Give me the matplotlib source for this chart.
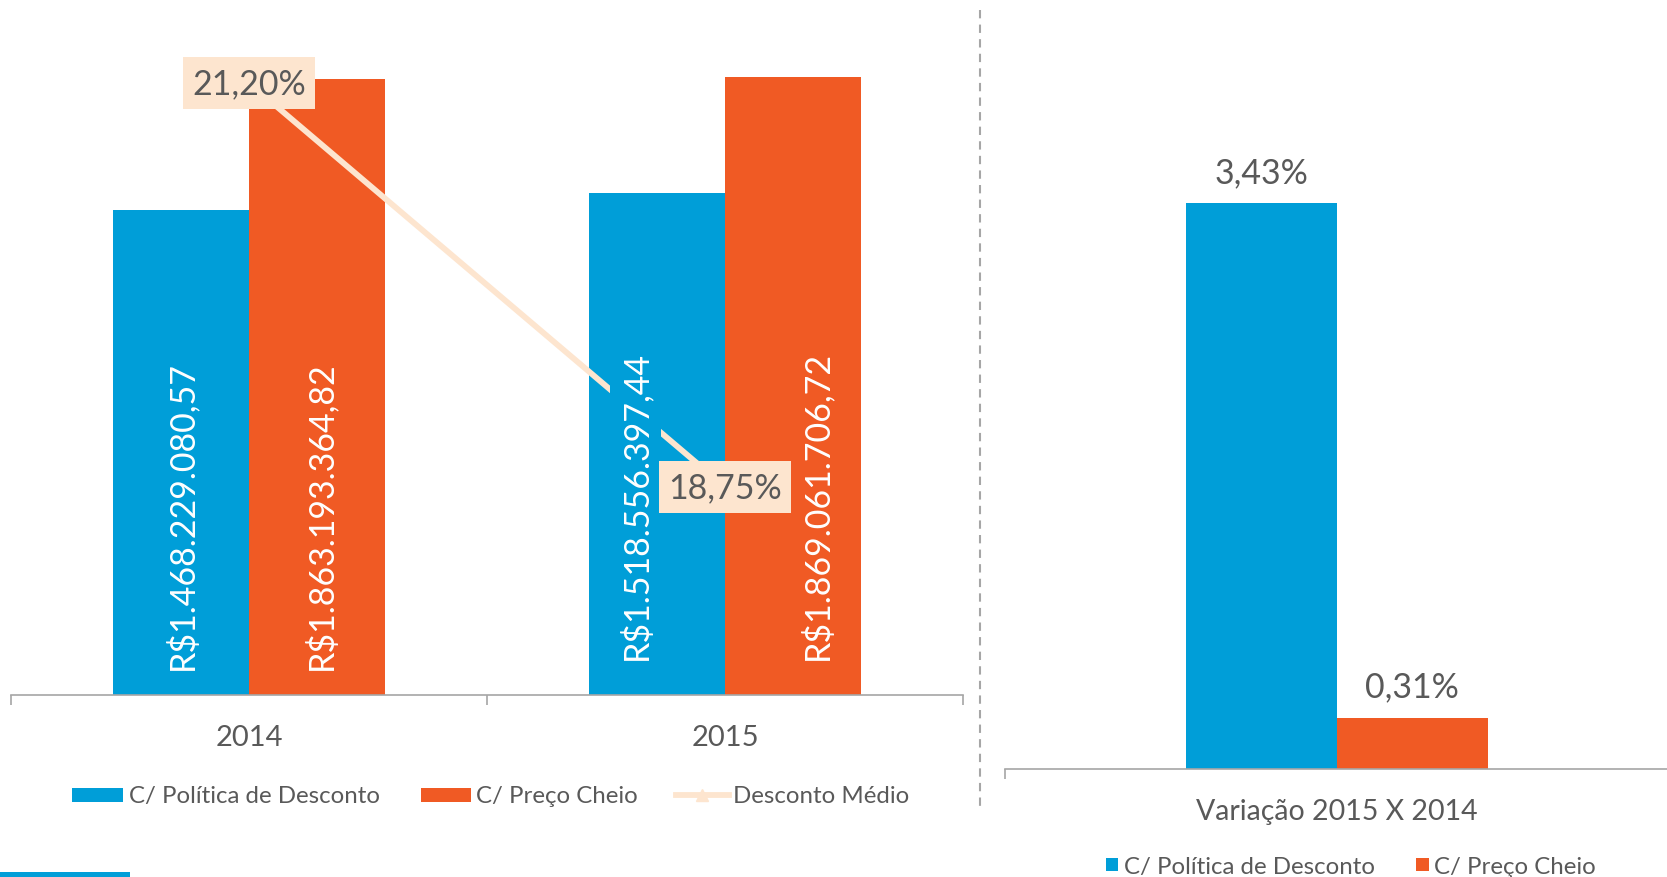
import matplotlib
matplotlib.use("Agg")
import matplotlib.pyplot as plt
from matplotlib.patches import Rectangle
from matplotlib.lines import Line2D

plt.rcParams['font.family'] = ['Lato', 'DejaVu Sans']

# ---- data ----
years = ["2014", "2015"]
politica = [1468229080.57, 1518556397.44]
preco_cheio = [1863193364.82, 1869061706.72]
desconto_medio = [21.20, 18.75]
politica_labels = ["R$1.468.229.080,57", "R$1.518.556.397,44"]
preco_labels = ["R$1.863.193.364,82", "R$1.869.061.706,72"]
desconto_labels = ["21,20%", "18,75%"]

var_category = ["Variação 2015 X 2014"]
var_politica = [3.43]
var_preco = [0.31]
var_labels_pol = ["3,43%"]
var_labels_pre = ["0,31%"]

legend_names = ["C/ Política de Desconto", "C/ Preço Cheio", "Desconto Médio"]

BLUE = "#009ED8"
ORANGE = "#F05A24"
PEACH = "#FDE5CF"
GRAY = "#595959"
AXGRAY = "#A6A6A6"

W, H = 1667, 878
fig = plt.figure(figsize=(W / 100, H / 100), dpi=100)


def fx(px):
    return px / W


def fy(py):
    return 1 - py / H


LBL = 24.5
CAT = 21
LEG = 17.3

# ---- left chart ----
L_left, L_right, L_bottom, L_top = 11, 963, 696, 35
ax = fig.add_axes([fx(L_left), fy(L_bottom), fx(L_right - L_left), (L_bottom - L_top) / H])
ax.set_xlim(-0.5, 1.5)
ax.set_ylim(0, 2.0e9)
bw = 0.285
xs = list(range(len(years)))
ax.bar([x - bw / 2 for x in xs], politica, width=bw, color=BLUE, zorder=2)
ax.bar([x + bw / 2 for x in xs], preco_cheio, width=bw, color=ORANGE, zorder=2)
for s in ["top", "right", "left"]:
    ax.spines[s].set_visible(False)
ax.spines["bottom"].set_color(AXGRAY)
ax.spines["bottom"].set_linewidth(1.2)
ax.set_yticks([])
ax.set_xticks([-0.5, 0.5, 1.5], minor=False)
ax.set_xticklabels([])
ax.tick_params(axis="x", which="major", length=7, width=1.2, color=AXGRAY, direction="out")
ax.set_xticks(xs, minor=True)
ax.set_xticklabels(years, minor=True)
ax.tick_params(axis="x", which="minor", length=0, pad=21, labelsize=CAT, labelcolor=GRAY)

ax2 = ax.twinx()
k = 404 / 2.45
ax2.set_ylim(18.75 - (L_bottom - 488) / k, 21.20 + (84 - L_top) / k)
ax2.axis("off")
ax2.plot(xs, desconto_medio, color=PEACH, lw=4.2, marker="^", markersize=9, zorder=3,
         solid_capstyle="butt")
for x, v, t in zip(xs, desconto_medio, desconto_labels):
    ax2.text(x, v, t, ha="center", va="center", fontsize=LBL, color=GRAY, zorder=6,
             bbox=dict(boxstyle="square,pad=0.28", fc=PEACH, ec="none"))

# bar value labels (rotated, inside, near base)
pol_dx = [0, -22]
pre_dx = [3, 23]
dy = [26, 36]
ybase = ax2.get_ylim()[0]
for i in xs:
    ax2.annotate(politica_labels[i], xy=(i - bw / 2, ybase),
                 xycoords="data", xytext=(pol_dx[i] * 0.72, dy[i] * 0.72), textcoords="offset points",
                 rotation=90, ha="center", va="bottom", fontsize=LBL, color="white", zorder=5,
                 bbox=dict(boxstyle="square,pad=0.25", fc=BLUE, ec="none"))
    ax2.annotate(preco_labels[i], xy=(i + bw / 2, ybase),
                 xycoords="data", xytext=(pre_dx[i] * 0.72, dy[i] * 0.72), textcoords="offset points",
                 rotation=90, ha="center", va="bottom", fontsize=LBL, color="white", zorder=5)

# ---- right chart ----
R_left, R_right, R_bottom, R_top = 1005, 1669, 770, 35
axr = fig.add_axes([fx(R_left), fy(R_bottom), fx(R_right - R_left), (R_bottom - R_top) / H])
axr.set_xlim(-0.5, 0.5)
axr.set_ylim(0, (R_bottom - R_top) / 165.0)
rbw = 0.227
axr.bar([-rbw / 2], var_politica, width=rbw, color=BLUE)
axr.bar([rbw / 2], var_preco, width=rbw, color=ORANGE)
for s in ["top", "right", "left"]:
    axr.spines[s].set_visible(False)
axr.spines["bottom"].set_color(AXGRAY)
axr.spines["bottom"].set_linewidth(1.2)
axr.set_yticks([])
axr.set_xticks([-0.5])
axr.set_xticklabels([])
axr.tick_params(axis="x", which="major", length=7, width=1.2, color=AXGRAY)
axr.set_xticks([0], minor=True)
axr.set_xticklabels(var_category, minor=True)
axr.tick_params(axis="x", which="minor", length=0, pad=21, labelsize=20.5, labelcolor=GRAY)
for v, t in zip(var_politica, var_labels_pol):
    axr.annotate(t, xy=(-rbw / 2, v), xytext=(0, 10.5), textcoords="offset points",
                 ha="center", va="bottom", fontsize=LBL, color=GRAY)
for v, t in zip(var_preco, var_labels_pre):
    axr.annotate(t, xy=(rbw / 2, v), xytext=(0, 11), textcoords="offset points",
                 ha="center", va="bottom", fontsize=LBL, color=GRAY)

# ---- separator ----
fig.add_artist(Line2D([fx(980), fx(980)], [fy(11), fy(813)], transform=fig.transFigure,
                      color=AXGRAY, lw=1.5, ls=(0, (4, 3))))

# ---- legends (manual) ----
def rect(x0, y0, x1, y1, c):
    fig.add_artist(Rectangle((fx(x0), fy(y1)), fx(x1 - x0), (y1 - y0) / H,
                             transform=fig.transFigure, color=c, lw=0))


def label(x, y, t, size=LEG):
    fig.text(fx(x), fy(y), t, ha="left", va="center", fontsize=size, color=GRAY)


rect(72, 789, 123, 803, BLUE)
label(129, 797, legend_names[0])
rect(421, 789, 471, 803, ORANGE)
label(476, 797, legend_names[1])
fig.add_artist(Line2D([fx(676), fx(729)], [fy(796), fy(796)], transform=fig.transFigure,
                      color=PEACH, lw=4.2))
fig.add_artist(Line2D([fx(702)], [fy(796)], transform=fig.transFigure, color=PEACH,
                      marker="^", markersize=9, lw=0))
label(733, 797, legend_names[2])

rect(1106, 859, 1118, 872, BLUE)
label(1124, 868, legend_names[0])
rect(1416, 859, 1429, 872, ORANGE)
label(1434, 868, legend_names[1])

# bottom-left accent strip
rect(0, 873, 130, 878, BLUE)

fig.savefig("out.png", dpi=100)
